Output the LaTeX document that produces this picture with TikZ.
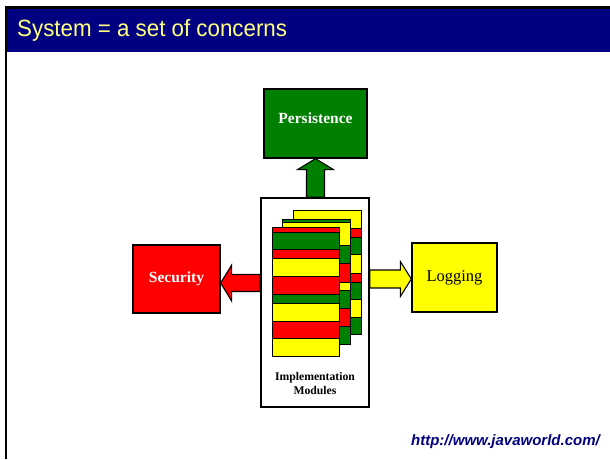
\documentclass[tikz,border=0pt]{standalone}
\usepackage{fontspec}
\newfontfamily\arialfont{Liberation Sans}
\newfontfamily\timesfont{Liberation Serif}
\usetikzlibrary{calc}

\definecolor{pgreen}{RGB}{0,128,0}
\definecolor{pred}{RGB}{255,0,0}
\definecolor{pyellow}{RGB}{255,255,0}
\definecolor{navy}{RGB}{0,0,128}
\definecolor{titleyellow}{RGB}{255,255,128}

\tikzset{
  concern/.style={draw=black, line width=1.3pt, rectangle, inner sep=0pt,
    font=\timesfont\bfseries\fontsize{15.5}{17}\selectfont},
  blockarrow/.style={draw=black, line width=1.1pt, line join=miter},
  stripe/.style={draw=black, line width=0.6pt}
}

\begin{document}
\begin{tikzpicture}[x=1pt, y=-1pt]
\useasboundingbox (0,0) rectangle (610,459);
\fill[white] (0,0) rectangle (610,459);

% title bar and frame line
\fill[black] (5,6) rectangle (610,9);
\fill[navy] (7,9) rectangle (610,51.5);
\fill[black] (5,6) rectangle (7,459);
\node[anchor=base west, inner sep=0pt, text=titleyellow,
      font=\arialfont\fontsize{23.5}{27}\selectfont] (title) at (17,36.5)
  {\scalebox{0.95}[1]{System = a set of concerns}};

% concern boxes
\node[concern, fill=pgreen, text=white, minimum width=103pt, minimum height=69pt]
  (persistence) at (315.5,123.5) {\raisebox{10pt}{Persistence}};
\node[concern, fill=pred, text=white, minimum width=87pt, minimum height=68pt]
  (security) at (176.5,279) {Security};
\node[concern, fill=pyellow, text=black, minimum width=85pt, minimum height=69pt,
      font=\timesfont\fontsize{16.5}{18}\selectfont]
  (logging) at (454.5,277.5) {Logging};

% module container
\node[draw=black, line width=1.5pt, fill=white, rectangle, inner sep=0pt,
      minimum width=108pt, minimum height=209pt] (modules) at (315,302.5) {};

% stacked implementation modules (back to front)
\foreach \ya/\yb/\c in {210/228/pyellow, 228/237/pred, 237/254/pgreen, 254/273/pyellow,
                        273/282/pred, 282/299/pgreen, 299/317/pyellow, 317/334/pgreen}
  \filldraw[stripe, fill=\c] (293,\ya) rectangle (361,\yb);
\foreach \ya/\yb/\c in {219/222/pgreen, 222/245/pyellow, 245/263/pgreen, 263/282/pred,
                        282/290/pyellow, 290/308/pgreen, 308/326/pred, 326/344/pgreen}
  \filldraw[stripe, fill=\c] (282,\ya) rectangle (350,\yb);
\foreach \ya/\yb/\c in {227/232/pred, 232/249/pgreen, 249/258/pred, 258/276/pyellow,
                        276/294/pred, 294/303/pgreen, 303/321/pyellow, 321/338/pred,
                        338/356/pyellow}
  \filldraw[stripe, fill=\c] (272,\ya) rectangle (339,\yb);

\node[align=center, inner sep=0pt, font=\timesfont\bfseries\fontsize{11.7}{14}\selectfont]
  (modlabel) at (315,384) {Implementation\\Modules};

% block arrows from the modules to each concern
\coordinate (gtip) at (persistence.south);
\draw[blockarrow, fill=pgreen] (gtip) -- ++(-18,11) -- ++(9,0) coordinate (g1)
  -- (g1 |- modules.north) -- ++(18,0) coordinate (g2) -- (g2 |- g1) -- ++(9,0) -- cycle;

\coordinate (rtip) at ($(security.east)+(0,4)$);
\draw[blockarrow, fill=pred] (rtip) -- ++(11,-18) -- ++(0,9.5) coordinate (r1)
  -- (r1 -| modules.west) -- ++(0,17) coordinate (r2) -- (r2 -| r1) -- ++(0,9.5) -- cycle;

\coordinate (ytip) at ($(logging.west)+(0,1.5)$);
\draw[blockarrow, fill=pyellow] (ytip) -- ++(-11,-17.5) -- ++(0,8.5) coordinate (y1)
  -- (y1 -| modules.east) -- ++(0,18) coordinate (y2) -- (y2 -| y1) -- ++(0,8.5) -- cycle;

% source link
\node[anchor=base east, inner sep=0pt, text=navy,
      font=\arialfont\bfseries\itshape\fontsize{15}{17}\selectfont] (url) at (600,445)
  {http://www.javaworld.com/};
\end{tikzpicture}
\end{document}
